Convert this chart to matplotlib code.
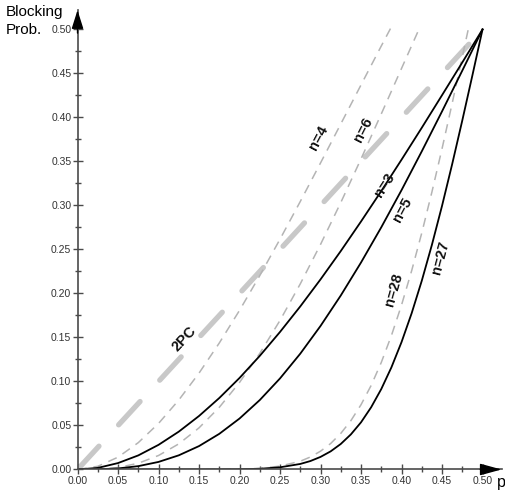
import matplotlib
matplotlib.use('Agg')
import matplotlib.pyplot as plt
from matplotlib.patches import Rectangle
from matplotlib.ticker import MultipleLocator

# Failure probability of a single site
p = [0.0, 0.025, 0.05, 0.075, 0.1, 0.125, 0.15, 0.175, 0.2, 0.225, 0.25,
     0.275, 0.3, 0.325, 0.35, 0.375, 0.4, 0.425, 0.45, 0.475, 0.5]
# denser grid for the steep large-n curves
p_big = [0.0, 0.1, 0.15, 0.175, 0.2, 0.225, 0.25, 0.275, 0.2875, 0.3, 0.3125,
         0.325, 0.3375, 0.35, 0.3625, 0.375, 0.3875, 0.4, 0.4125, 0.425, 0.4375,
         0.45, 0.4625, 0.475, 0.4875, 0.5]

# Blocking probability
n3 = [0.0, 0.0018, 0.0073, 0.0160, 0.0280, 0.0430, 0.0608, 0.0812, 0.1040, 0.1291, 0.1563,
      0.1853, 0.2160, 0.2482, 0.2818, 0.3164, 0.3520, 0.3883, 0.4253, 0.4625, 0.5]
n4 = [0.0, 0.0036, 0.0140, 0.0305, 0.0523, 0.0789, 0.1095, 0.1437, 0.1808, 0.2203, 0.2617,
      0.3045, 0.3483, 0.3926, 0.4370, 0.4812, 0.5248]
n5 = [0.0, 0.0002, 0.0012, 0.0038, 0.0086, 0.0161, 0.0266, 0.0405, 0.0579, 0.0789, 0.1035,
      0.1316, 0.1631, 0.1977, 0.2352, 0.2752, 0.3174, 0.3615, 0.4069, 0.4532, 0.5]
n6 = [0.0, 0.0003, 0.0022, 0.0071, 0.0159, 0.0291, 0.0473, 0.0706, 0.0989, 0.1319, 0.1694,
      0.2109, 0.2557, 0.3033, 0.3529, 0.4040, 0.4557, 0.5074]
n27 = [0.0, 0.0, 0.00001, 0.00005, 0.0002, 0.0008, 0.0025, 0.0063, 0.0096, 0.0143, 0.0206,
       0.0290, 0.0399, 0.0536, 0.0707, 0.0914, 0.1160, 0.1447, 0.1775, 0.2144, 0.2552,
       0.2995, 0.3468, 0.3965, 0.4478, 0.5]
n28 = [0.0, 0.0, 0.00001, 0.0001, 0.0004, 0.0013, 0.0038, 0.0094, 0.0142, 0.0208, 0.0295,
       0.0410, 0.0555, 0.0736, 0.0955, 0.1216, 0.1521, 0.1868, 0.2258, 0.2688, 0.3152,
       0.3644, 0.4159, 0.4687, 0.5219, 0.5747]
two_pc = [0.0, 0.5]
two_pc_x = [0.0, 0.5]

AXIS_COLOR = '#4a4a4a'
LIGHT_DASH = '#b4b4b4'
THICK_DASH = '#c8c8c8'

plt.rcParams['font.family'] = ['Liberation Sans', 'DejaVu Sans']

fig = plt.figure(figsize=(5.06, 4.91), dpi=100)
ax = fig.add_axes([0.1532, 0.0438, 0.838, 0.9356])
ax.set_xlim(0, 0.5235)
ax.set_ylim(0, 0.522)

clip = Rectangle((0, 0), 0.52, 0.503, transform=ax.transData)

# 2PC reference line
ln, = ax.plot(two_pc_x, two_pc, color=THICK_DASH, lw=3.8, dashes=(6, 5.5),
              solid_capstyle='round', dash_capstyle='round')
ln.set_clip_path(clip)

# even n: dashed grey, odd n: solid black
for xs, ys in ((p, n4), (p, n6), (p_big, n28)):
    ln, = ax.plot(xs[:len(ys)], ys, color=LIGHT_DASH, lw=1.1, dashes=(6, 4.5))
    ln.set_clip_path(clip)
for xs, ys in ((p, n3), (p, n5), (p_big, n27)):
    ln, = ax.plot(xs, ys, color='black', lw=1.3)
    ln.set_clip_path(clip)

labels = [
    ('n=4', 0.2976, 0.3764, 62),
    ('n=6', 0.3526, 0.3858, 63),
    ('n=3', 0.3789, 0.3237, 57),
    ('n=5', 0.4011, 0.2949, 62),
    ('n=27', 0.4478, 0.2403, 75),
    ('n=28', 0.3904, 0.2040, 74),
    ('2PC', 0.1314, 0.1489, 47),
]
for txt, x, y, rot in labels:
    ax.text(x, y, txt, rotation=rot, ha='center', va='center',
            fontsize=10.5, fontweight='bold', color='#111111',
            rotation_mode='anchor')

# axes with arrows
for side in ('top', 'right'):
    ax.spines[side].set_visible(False)
for side in ('left', 'bottom'):
    ax.spines[side].set_color(AXIS_COLOR)
    ax.spines[side].set_linewidth(1.2)
ax.annotate('', xy=(1, 0), xytext=(0.95, 0), xycoords='axes fraction',
            arrowprops=dict(arrowstyle='-|>,head_length=1.1,head_width=0.3',
                            color='black', lw=1.0, shrinkA=0, shrinkB=0,
                            mutation_scale=12))
ax.annotate('', xy=(0, 1), xytext=(0, 0.95), xycoords='axes fraction',
            arrowprops=dict(arrowstyle='-|>,head_length=0.95,head_width=0.3',
                            color='black', lw=1.0, shrinkA=0, shrinkB=0,
                            mutation_scale=12))

ax.xaxis.set_minor_locator(MultipleLocator(0.025))
ax.yaxis.set_minor_locator(MultipleLocator(0.025))
ax.set_xticks([i * 0.05 for i in range(11)])
ax.set_yticks([i * 0.05 for i in range(11)])
ax.set_xticklabels([f'{i * 0.05:.2f}' for i in range(11)])
ax.set_yticklabels([f'{i * 0.05:.2f}' for i in range(11)])
ax.tick_params(which='major', direction='inout', length=7, width=1.0,
               color=AXIS_COLOR, labelsize=7.5, labelcolor='#333333', pad=1)
ax.tick_params(which='minor', direction='inout', length=4, width=1.0, color=AXIS_COLOR)

# axis titles, one line each
fig.text(6 / 506, 1 - 5 / 491, 'Blocking', ha='left', va='top', fontsize=11)
fig.text(6 / 506, 1 - 23 / 491, 'Prob.', ha='left', va='top', fontsize=11)
fig.text(497 / 506, 1 - 483 / 491, 'p', ha='left', va='center', fontsize=11.5)

fig.savefig('out.png', dpi=100)
